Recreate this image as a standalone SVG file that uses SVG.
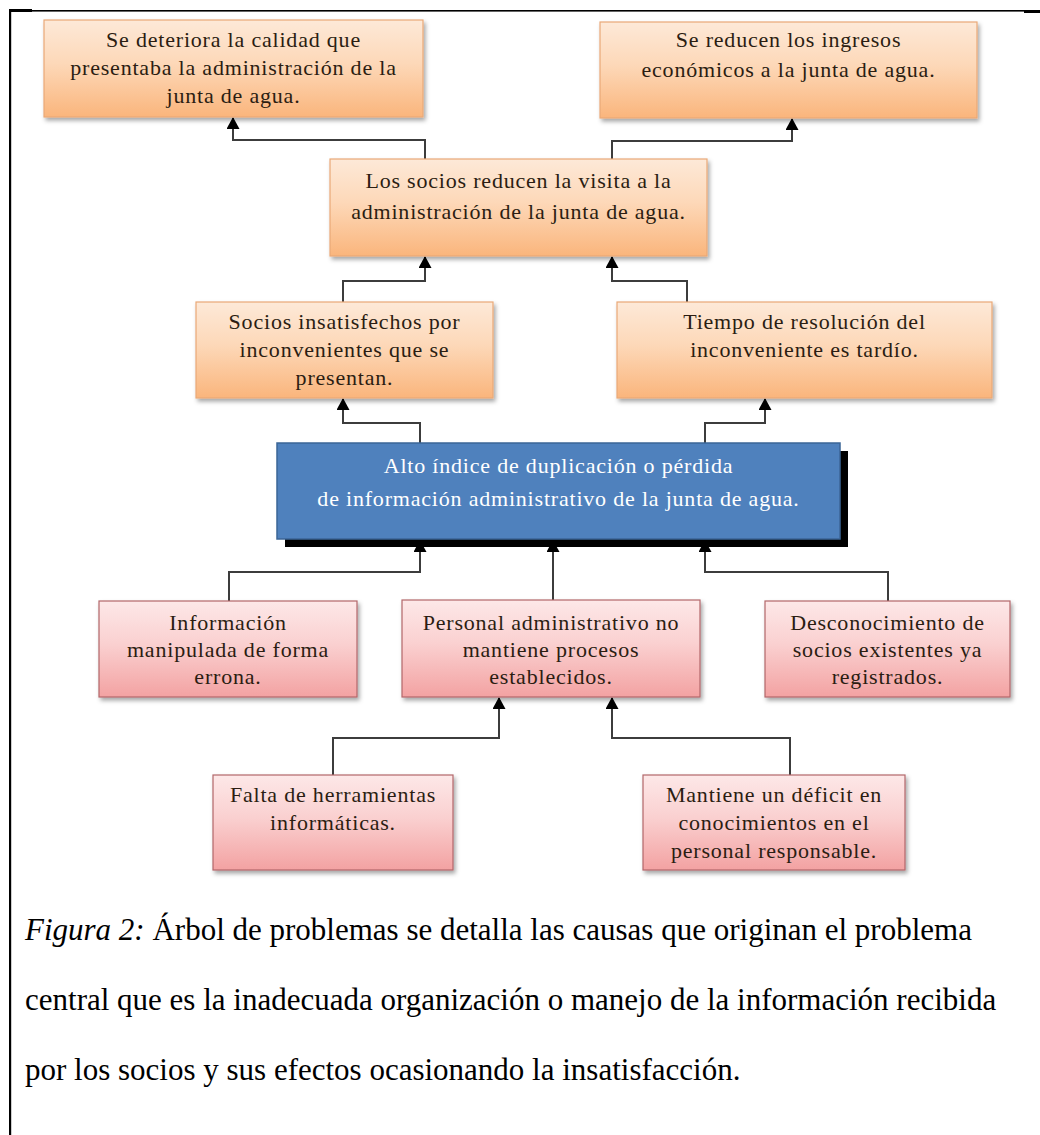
<svg xmlns="http://www.w3.org/2000/svg" width="1040" height="1135" viewBox="0 0 1040 1135">
  <defs>
    <linearGradient id="gOrange" x1="0" y1="0" x2="0" y2="1">
      <stop offset="0" stop-color="#fde9d8"/>
      <stop offset="0.45" stop-color="#fdd8b8"/>
      <stop offset="1" stop-color="#fab57c"/>
    </linearGradient>
    <linearGradient id="gPink" x1="0" y1="0" x2="0" y2="1">
      <stop offset="0" stop-color="#fde8e8"/>
      <stop offset="0.45" stop-color="#fad0d0"/>
      <stop offset="1" stop-color="#f3a2a2"/>
    </linearGradient>
    <filter id="soft" x="-5%" y="-5%" width="115%" height="125%">
      <feDropShadow dx="2" dy="3" stdDeviation="2" flood-color="#000" flood-opacity="0.35"/>
    </filter>
    <marker id="arrow" markerUnits="userSpaceOnUse" markerWidth="12" markerHeight="13" viewBox="0 0 12 13" refX="11" refY="6.5" orient="auto">
      <path d="M0,0 L12,6.5 L0,13 z" fill="#000"/>
    </marker>
  </defs>
  <style>
    .eff { fill: url(#gOrange); stroke: #e9a877; stroke-width: 1.2; filter: url(#soft); }
    .cause { fill: url(#gPink); stroke: #b3676a; stroke-width: 1.2; filter: url(#soft); }
    .core { fill: #4f81bd; stroke: #3b6597; stroke-width: 1.5; }
    .t { font-family: "Liberation Serif", "Times New Roman", serif; font-size: 22px; letter-spacing: 0.8px; fill: #2b1d12; text-anchor: middle; }
    .tw { font-family: "Liberation Serif", "Times New Roman", serif; font-size: 22px; letter-spacing: 0.8px; fill: #ffffff; text-anchor: middle; }
    .cap { font-family: "Liberation Serif", "Times New Roman", serif; font-size: 31px; fill: #000; }
    .link { fill: none; stroke: #3c3c3c; stroke-width: 2; marker-end: url(#arrow); }
  </style>

  <rect width="1040" height="1135" fill="#fff"/>

  <!-- cell border -->
  <g id="frame" fill="#000">
    <rect x="9" y="10" width="1015" height="1.6"/>
    <rect x="9" y="9" width="23" height="3"/>
    <rect x="1024" y="10" width="16" height="3"/>
    <rect x="9" y="9" width="2.2" height="1126"/>
  </g>

  <!-- connectors -->
  <g id="connectors">
    <path class="link" d="M425 159 V140 H233 V118"/>
    <path class="link" d="M612 159 V141 H792 V119"/>
    <path class="link" d="M343 302 V281 H425 V257"/>
    <path class="link" d="M687 302 V281 H612 V257"/>
    <path class="link" d="M420 443 V423 H343 V399"/>
    <path class="link" d="M705 443 V423 H765 V399"/>
    <path class="link" d="M229 601 V572 H420 V541"/>
    <path class="link" d="M553 600 V541"/>
    <path class="link" d="M888 601 V572 H705 V541"/>
    <path class="link" d="M333 775 V738 H499 V698"/>
    <path class="link" d="M790 775 V738 H612 V698"/>
  </g>

  <!-- effects -->
  <g id="effect-calidad">
    <rect class="eff" x="44" y="20" width="379" height="97"/>
    <text class="t" x="233.5" y="47">Se deteriora la calidad que</text>
    <text class="t" x="233.5" y="75">presentaba la administración de la</text>
    <text class="t" x="233.5" y="103">junta de agua.</text>
  </g>
  <g id="effect-ingresos">
    <rect class="eff" x="600" y="22" width="377" height="96"/>
    <text class="t" x="788.5" y="47">Se reducen los ingresos</text>
    <text class="t" x="788.5" y="77">económicos a la junta de agua.</text>
  </g>
  <g id="effect-visita">
    <rect class="eff" x="330" y="159" width="377" height="97"/>
    <text class="t" x="518.5" y="188">Los socios reducen la visita a la</text>
    <text class="t" x="518.5" y="219">administración de la junta de agua.</text>
  </g>
  <g id="effect-insatisfechos">
    <rect class="eff" x="196" y="302" width="297" height="96"/>
    <text class="t" x="344.5" y="329">Socios insatisfechos por</text>
    <text class="t" x="344.5" y="357">inconvenientes que se</text>
    <text class="t" x="344.5" y="385">presentan.</text>
  </g>
  <g id="effect-tiempo">
    <rect class="eff" x="617" y="302" width="375" height="96"/>
    <text class="t" x="804.5" y="329">Tiempo de resolución del</text>
    <text class="t" x="804.5" y="357">inconveniente es tardío.</text>
  </g>

  <!-- central problem -->
  <g id="problem">
    <rect x="285" y="451" width="563" height="96" fill="#000"/>
    <rect class="core" x="277" y="443" width="563" height="96"/>
    <text class="tw" x="558.5" y="473">Alto índice de duplicación o pérdida</text>
    <text class="tw" x="558.5" y="506">de información administrativo de la junta de agua.</text>
  </g>

  <!-- causes -->
  <g id="cause-manipulada">
    <rect class="cause" x="99" y="601" width="258" height="96"/>
    <text class="t" x="228" y="630">Información</text>
    <text class="t" x="228" y="657">manipulada de forma</text>
    <text class="t" x="228" y="684">errona.</text>
  </g>
  <g id="cause-procesos">
    <rect class="cause" x="402" y="600" width="298" height="97"/>
    <text class="t" x="551" y="630">Personal administrativo no</text>
    <text class="t" x="551" y="657">mantiene procesos</text>
    <text class="t" x="551" y="684">establecidos.</text>
  </g>
  <g id="cause-desconocimiento">
    <rect class="cause" x="765" y="601" width="245" height="96"/>
    <text class="t" x="887.5" y="630">Desconocimiento de</text>
    <text class="t" x="887.5" y="657">socios existentes ya</text>
    <text class="t" x="887.5" y="684">registrados.</text>
  </g>
  <g id="cause-herramientas">
    <rect class="cause" x="213" y="775" width="240" height="95"/>
    <text class="t" x="333" y="802">Falta de herramientas</text>
    <text class="t" x="333" y="830">informáticas.</text>
  </g>
  <g id="cause-deficit">
    <rect class="cause" x="643" y="775" width="262" height="95"/>
    <text class="t" x="774" y="802">Mantiene un déficit en</text>
    <text class="t" x="774" y="830">conocimientos en el</text>
    <text class="t" x="774" y="858">personal responsable.</text>
  </g>

  <!-- caption -->
  <g id="caption">
    <text class="cap" x="25" y="940"><tspan font-style="italic">Figura 2:</tspan> Árbol de problemas se detalla las causas que originan el problema</text>
    <text class="cap" x="25" y="1010">central que es la inadecuada organización o manejo de la información recibida</text>
    <text class="cap" x="25" y="1080">por los socios y sus efectos ocasionando la insatisfacción.</text>
  </g>
</svg>
